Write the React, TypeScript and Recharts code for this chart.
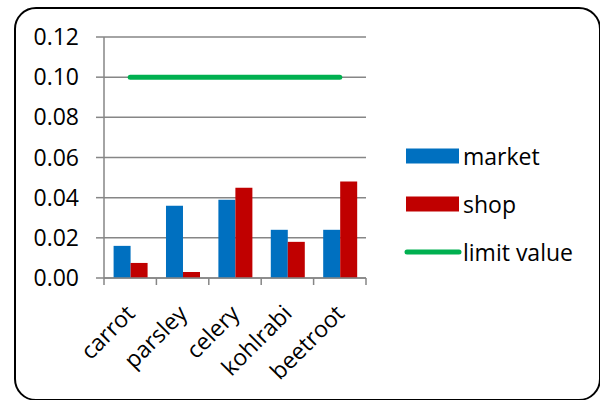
import { ComposedChart, Bar, Line, XAxis, YAxis, CartesianGrid, Legend } from 'recharts';

const categories = ['carrot', 'parsley', 'celery', 'kohlrabi', 'beetroot'];
const market = [0.016, 0.036, 0.039, 0.024, 0.024];
const shop = [0.0075, 0.003, 0.045, 0.018, 0.048];
const limitValue = [0.1, 0.1, 0.1, 0.1, 0.1];
const yTicks = [0, 0.02, 0.04, 0.06, 0.08, 0.1, 0.12];
const seriesOrder = ['market', 'shop', 'limit value'];

const data = categories.map((name, i) => ({
  name,
  market: market[i],
  shop: shop[i],
  limit: limitValue[i],
}));

const AXIS_GRAY = '#868686';
const FONT = '"Open Sans", sans-serif';
const X_TICK = 7;

// Excel-style category axis: tick marks sit between the categories, labels run at 45°
function CategoryTick(props: any) {
  const { x, y, payload, index, visibleTicksCount } = props;
  const half = payload.offset ?? 0;
  const last = index === visibleTicksCount - 1;
  const tx = x + 6;
  const ty = y + 30;
  return (
    <g>
      <line x1={x - half} x2={x - half} y1={y - X_TICK} y2={y} stroke={AXIS_GRAY} strokeWidth={1.5} />
      {last && <line x1={x + half} x2={x + half} y1={y - X_TICK} y2={y} stroke={AXIS_GRAY} strokeWidth={1.5} />}
      <text
        x={tx}
        y={ty}
        transform={`rotate(-45, ${tx}, ${ty})`}
        textAnchor="end"
        fontSize={23}
        fontFamily={FONT}
        fill="#000"
      >
        {payload.value}
      </text>
    </g>
  );
}

function LegendBox({ payload }: any) {
  const items = [...(payload || [])].sort(
    (a: any, b: any) => seriesOrder.indexOf(a.value) - seriesOrder.indexOf(b.value)
  );
  return (
    <div style={{ fontFamily: FONT, fontSize: 23, color: '#000' }}>
      {items.map((item: any) => (
        <div key={item.value} style={{ display: 'flex', alignItems: 'center', height: 48 }}>
          <svg width={58} height={16} style={{ marginRight: 1 }}>
            {item.type === 'line' ? (
              <line x1={3} x2={55} y1={8} y2={8} stroke={item.color} strokeWidth={5} strokeLinecap="round" />
            ) : (
              <rect x={2} y={0.5} width={53} height={15} fill={item.color} />
            )}
          </svg>
          <span>{item.value}</span>
        </div>
      ))}
    </div>
  );
}

export default function App() {
  return (
    <div style={{ position: 'absolute', left: 0, top: 0, width: 600, height: 400, background: '#fff' }}>
      <div
        style={{
          position: 'absolute',
          left: 14,
          top: 6.5,
          width: 587,
          height: 394,
          boxSizing: 'border-box',
          border: '2px solid #000',
          borderRadius: 22,
        }}
      />
      <ComposedChart
        width={600}
        height={400}
        data={data}
        margin={{ top: 37, right: 234, bottom: 0, left: 0 }}
        barCategoryGap="18.3%"
        barGap={0}
        style={{ fontFamily: FONT }}
      >
        <CartesianGrid vertical={false} stroke={AXIS_GRAY} strokeWidth={1.5} />
        <XAxis
          dataKey="name"
          height={122}
          tickLine={false}
          tickSize={X_TICK}
          tickMargin={0}
          interval={0}
          axisLine={{ stroke: AXIS_GRAY, strokeWidth: 1.5 }}
          tick={<CategoryTick />}
        />
        <YAxis
          width={104}
          domain={[0, 0.12]}
          ticks={yTicks}
          tickFormatter={(v: number) => v.toFixed(2)}
          tickSize={8}
          tickMargin={17}
          tickLine={{ stroke: AXIS_GRAY, strokeWidth: 1.5 }}
          axisLine={{ stroke: AXIS_GRAY, strokeWidth: 1.5 }}
          tick={{ fontSize: 23, fill: '#000', fontFamily: FONT }}
        />
        <Legend
          layout="horizontal"
          align="center"
          verticalAlign="middle"
          content={<LegendBox />}
          wrapperStyle={{ left: 404, top: 132, width: 196, height: 150 }}
        />
        <Bar dataKey="market" name="market" fill="#0070c0" legendType="rect" isAnimationActive={false} />
        <Bar dataKey="shop" name="shop" fill="#c00000" legendType="rect" isAnimationActive={false} />
        <Line
          dataKey="limit"
          name="limit value"
          type="linear"
          stroke="#00b050"
          strokeWidth={5}
          strokeLinecap="round"
          dot={false}
          activeDot={false}
          legendType="line"
          isAnimationActive={false}
        />
      </ComposedChart>
    </div>
  );
}
